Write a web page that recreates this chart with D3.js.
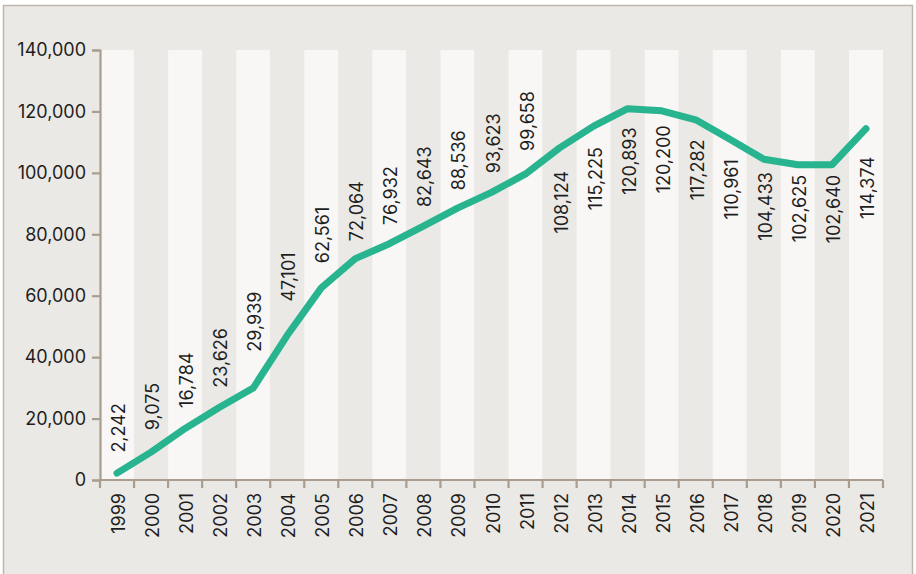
<!DOCTYPE html>
<html>
<head>
<meta charset="utf-8">
<script src="https://cdn.jsdelivr.net/npm/d3@7"></script>
<style>
  body { margin: 0; background: #fff; }
  text { font-family: Inter, Lato, sans-serif; fill: #1e1e1e; }
</style>
</head>
<body>
<svg id="chart"></svg>
<script>
// data
const years  = ["1999","2000","2001","2002","2003","2004","2005","2006","2007","2008","2009","2010",
                "2011","2012","2013","2014","2015","2016","2017","2018","2019","2020","2021"];
const values = [2242, 9075, 16784, 23626, 29939, 47101, 62561, 72064, 76932, 82643, 88536, 93623,
                99658, 108124, 115225, 120893, 120200, 117282, 110961, 104433, 102625, 102640, 114374];
const yTicks = [0, 20000, 40000, 60000, 80000, 100000, 120000, 140000];
const labelsBelowFrom = "2012";   // labels sit under the line from this year on

const W = 916, H = 574;
const margin = {top: 50, right: 33, bottom: 94, left: 100};
const innerW = W - margin.left - margin.right;
const innerH = H - margin.top - margin.bottom;

const axisColor = "#a99d8e";
const lineColor = "#27b48f";
const fontSize = "18px";

const svg = d3.select("#chart").attr("width", W).attr("height", H);

// frame
svg.append("rect")
    .attr("x", 3.5).attr("y", 5.5)
    .attr("width", 909).attr("height", 574)
    .attr("fill", "#ebe9e5")
    .attr("stroke", "#bfb7ac")
    .attr("stroke-width", 1.5);

const chart = svg.append("g")
    .attr("transform", `translate(${margin.left}, ${margin.top})`);

const x = d3.scaleBand().domain(years).range([0, innerW]).padding(0);
const y = d3.scaleLinear().domain([0, 140000]).range([innerH, 0]);

// alternating column bands
chart.selectAll("rect.band")
    .data(years)
    .enter()
    .append("rect")
    .attr("class", "band")
    .attr("x", d => x(d))
    .attr("y", y(140000))
    .attr("width", x.bandwidth())
    .attr("height", y(0) - y(140000))
    .attr("fill", (d, i) => i % 2 == 0 ? "#f8f7f5" : "#ebe9e5");

// y axis
const yAxis = chart.append("g")
    .call(d3.axisLeft(y).tickValues(yTicks).tickSize(8).tickPadding(6).tickFormat(d3.format(",")));
yAxis.select(".domain").attr("stroke", axisColor).attr("stroke-width", 2.2);
yAxis.selectAll(".tick line").attr("stroke", axisColor).attr("stroke-width", 2.2);
yAxis.selectAll(".tick text")
    .style("font-family", "Inter, Lato, sans-serif")
    .style("font-size", fontSize)
    .attr("fill", "#1e1e1e");

// x axis line + boundary ticks
chart.append("line")
    .attr("x1", 0).attr("x2", innerW)
    .attr("y1", innerH).attr("y2", innerH)
    .attr("stroke", axisColor).attr("stroke-width", 2.2);

const bounds = years.map(d => x(d)).concat([x(years[years.length - 1]) + x.bandwidth()]);
chart.selectAll("line.xtick")
    .data(bounds)
    .enter()
    .append("line")
    .attr("class", "xtick")
    .attr("x1", d => d).attr("x2", d => d)
    .attr("y1", innerH).attr("y2", innerH + 8)
    .attr("stroke", axisColor).attr("stroke-width", 2.2);

// year labels
chart.selectAll("text.year")
    .data(years)
    .enter()
    .append("text")
    .attr("class", "year")
    .attr("transform", d => `translate(${x(d) + x.bandwidth() / 2 + 1.5}, ${innerH + 13}) rotate(-90)`)
    .attr("text-anchor", "end")
    .attr("dominant-baseline", "central")
    .style("font-size", fontSize)
    .text(d => d);

// line
const pts = years.map((d, i) => ({year: d, value: values[i]}));
const line = d3.line()
    .x(d => x(d.year) + x.bandwidth() / 2)
    .y(d => y(d.value));

chart.append("path")
    .datum(pts)
    .attr("d", line)
    .attr("fill", "none")
    .attr("stroke", lineColor)
    .attr("stroke-width", 7)
    .attr("stroke-linecap", "round")
    .attr("stroke-linejoin", "round");

// value labels: placed clear of the line within each column
const fmt = d3.format(",");
const edgeVals = (i) => {
    let v = [values[i]];
    if (i > 0) v.push((values[i] + values[i - 1]) / 2);
    if (i < values.length - 1) v.push((values[i] + values[i + 1]) / 2);
    return v;
};

chart.selectAll("text.val")
    .data(pts)
    .enter()
    .append("text")
    .attr("class", "val")
    .attr("transform", (d, i) => {
        let cx = x(d.year) + x.bandwidth() / 2 + 1.5;
        let below = d.year >= labelsBelowFrom;
        let v = edgeVals(i);
        let yy = below ? y(d3.min(v)) + 10 : y(d3.max(v)) - 10;
        return `translate(${cx}, ${yy}) rotate(-90)`;
    })
    .attr("text-anchor", d => d.year >= labelsBelowFrom ? "end" : "start")
    .attr("dominant-baseline", "central")
    .style("font-size", fontSize)
    .text(d => fmt(d.value));
</script>
</body>
</html>
